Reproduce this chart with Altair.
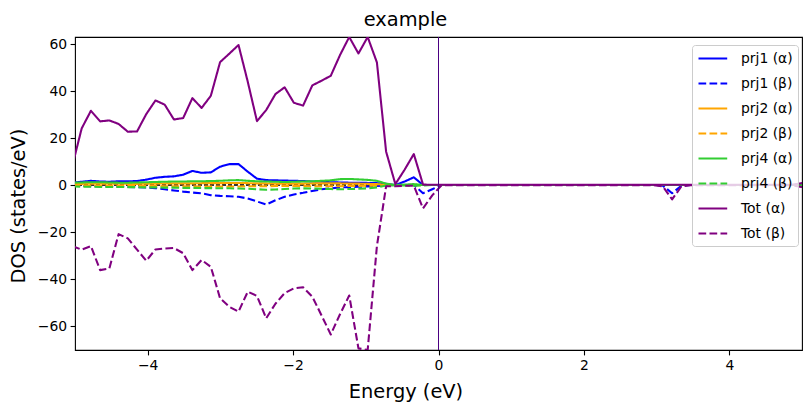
import altair as alt
import pandas as pd

# Energy grid of the DOS file (eV)
n_pts = 81
energy = [round(-5.035 + 0.1269 * i, 4) for i in range(n_pts)]

labels = ["prj1 (α)", "prj1 (β)", "prj2 (α)", "prj2 (β)",
          "prj4 (α)", "prj4 (β)", "Tot (α)", "Tot (β)"]
colors = ["#0000ff", "#0000ff", "#ffa500", "#ffa500",
          "#32cd32", "#32cd32", "#800080", "#800080"]
dashes = [[1, 0], [7.7, 3.3], [1, 0], [7.7, 3.3],
          [1, 0], [7.7, 3.3], [1, 0], [7.7, 3.3]]

# values below the Fermi level (first 41 points) and above (last 40 points)
prj1_a = [1.0, 1.4, 1.8, 1.5, 1.4, 1.6, 1.6, 1.7, 2.3, 3.1, 3.5, 3.7, 4.4, 6.0, 5.2, 5.4,
          7.8, 8.9, 8.9, 5.7, 2.7, 2.1, 2.0, 1.9, 1.8, 1.7, 1.5, 1.4, 1.2, 1.1, 1.0, 1.0,
          0.9, 0.8, 0.5, 0.0, 1.5, 3.3, 0.0, 0.0, 0.0,
          0.0, 0.0, 0.0, 0.0, 0.0, 0.0, 0.0, 0.0, 0.0, 0.0, 0.0, 0.0, 0.0, 0.0, 0.0, 0.0,
          0.0, 0.0, 0.0, 0.0, 0.0, 0.0, 0.0, 0.0, 0.0, 0.0, 0.0, 0.0, 0.0, 0.0, 0.0, 0.0,
          0.0, 0.0, 0.0, 0.0, 0.0, 0.0, 0.0, 0.0]
prj1_b = [-0.4, -0.4, -0.5, -0.5, -0.6, -0.7, -0.8, -0.9, -1.0, -1.3, -1.8, -2.3, -2.8, -3.2,
          -3.5, -4.3, -4.6, -4.8, -5.0, -5.7, -7.0, -8.3, -6.5, -5.0, -4.0, -3.3, -2.5, -1.8,
          -1.4, -1.0, -0.9, -0.7, -0.6, -0.4, -0.2, 0.0, 0.0, 0.0, -3.5, -1.8, 0.0,
          0.0, 0.0, 0.0, 0.0, 0.0, 0.0, 0.0, 0.0, 0.0, 0.0, 0.0, 0.0, 0.0, 0.0, 0.0, 0.0,
          0.0, 0.0, 0.0, 0.0, 0.0, 0.0, 0.0, -0.3, -3.5, -0.3, 0.0, 0.0, 0.0, 0.0, 0.0, 0.0,
          0.0, 0.0, 0.0, 0.0, 0.0, 0.0, 0.0, 0.0]
prj2_a = [0.5, 0.5, 0.6, 0.6, 0.6, 0.6, 0.5, 0.5, 0.6, 0.6, 0.7, 0.7, 0.7, 0.7, 0.8, 0.8,
          0.8, 0.9, 0.9, 0.8, 0.7, 0.7, 0.6, 0.6, 0.6, 0.6, 0.7, 0.7, 0.7, 0.7, 0.6, 0.6,
          0.5, 0.4, 0.1, 0.0, 0.0, 0.1, 0.0, 0.0, 0.0,
          0.0, 0.0, 0.0, 0.0, 0.0, 0.0, 0.0, 0.0, 0.0, 0.0, 0.0, 0.0, 0.0, 0.0, 0.0, 0.0,
          0.0, 0.0, 0.0, 0.0, 0.0, 0.0, 0.0, 0.0, 0.0, 0.0, 0.0, 0.0, 0.0, 0.0, 0.0, 0.0,
          0.0, 0.0, 0.0, 0.0, 0.0, 0.0, 0.0, 0.0]
prj2_b = [-0.3, -0.3, -0.4, -0.4, -0.4, -0.4, -0.3, -0.3, -0.4, -0.4, -0.5, -0.5, -0.5, -0.5,
          -0.6, -0.6, -0.6, -0.6, -0.6, -0.5, -0.5, -0.5, -0.4, -0.4, -0.4, -0.4, -0.5, -0.5,
          -0.5, -0.5, -0.4, -0.4, -0.3, -0.3, -0.1, 0.0, 0.0, -0.1, 0.0, 0.0, 0.0,
          0.0, 0.0, 0.0, 0.0, 0.0, 0.0, 0.0, 0.0, 0.0, 0.0, 0.0, 0.0, 0.0, 0.0, 0.0, 0.0,
          0.0, 0.0, 0.0, 0.0, 0.0, 0.0, 0.0, 0.0, 0.0, 0.0, 0.0, 0.0, 0.0, 0.0, 0.0, 0.0,
          0.0, 0.0, 0.0, 0.0, 0.0, 0.0, 0.0, 0.0]
prj4_a = [1.0, 1.1, 1.2, 1.2, 1.1, 1.0, 1.0, 1.1, 1.2, 1.3, 1.4, 1.5, 1.5, 1.6, 1.6, 1.7,
          1.8, 2.0, 2.1, 1.8, 1.6, 1.5, 1.4, 1.3, 1.4, 1.5, 1.6, 1.8, 2.0, 2.5, 2.6, 2.4,
          2.2, 1.8, 0.6, 0.0, 0.2, 0.4, 0.0, 0.0, 0.0,
          0.0, 0.0, 0.0, 0.0, 0.0, 0.0, 0.0, 0.0, 0.0, 0.0, 0.0, 0.0, 0.0, 0.0, 0.0, 0.0,
          0.0, 0.0, 0.0, 0.0, 0.0, 0.0, 0.0, 0.0, 0.0, 0.0, 0.0, 0.0, 0.0, 0.0, 0.0, 0.0,
          0.0, 0.0, 0.0, 0.0, 0.0, 0.0, 0.4, 0.4]
prj4_b = [-0.6, -0.7, -0.7, -0.8, -0.8, -0.8, -0.9, -0.9, -1.0, -1.0, -1.1, -1.1, -1.2, -1.2,
          -1.3, -1.3, -1.4, -1.4, -1.5, -1.6, -1.8, -2.0, -1.9, -1.7, -1.5, -1.4, -1.5, -1.6,
          -1.7, -1.8, -1.7, -1.6, -1.4, -1.0, -0.2, 0.0, -0.2, -0.3, -0.2, 0.0, 0.0,
          0.0, 0.0, 0.0, 0.0, 0.0, 0.0, 0.0, 0.0, 0.0, 0.0, 0.0, 0.0, 0.0, 0.0, 0.0, 0.0,
          0.0, 0.0, 0.0, 0.0, 0.0, 0.0, 0.0, 0.0, 0.0, 0.0, 0.0, 0.0, 0.0, 0.0, 0.0, 0.0,
          0.0, 0.0, 0.0, 0.0, 0.0, 0.0, 0.0, 0.0]
tot_a = [8.4, 24.1, 31.6, 27.1, 27.5, 26.0, 22.7, 22.8, 30.2, 36.0, 34.2, 27.9, 28.5, 37.0,
         32.8, 38.0, 52.3, 55.9, 59.6, 44.0, 27.2, 31.9, 38.7, 41.6, 35.0, 33.8, 42.4, 44.4,
         46.5, 55.3, 63.0, 56.0, 63.0, 52.2, 14.2, 0.4, 6.5, 13.2, 0.2, 0.1, 0.1,
         0.1, 0.1, 0.1, 0.1, 0.1, 0.1, 0.1, 0.1, 0.1, 0.1, 0.1, 0.1, 0.1, 0.1, 0.1, 0.1,
         0.1, 0.1, 0.1, 0.1, 0.1, 0.1, 0.1, 0.1, 0.1, 0.1, 0.1, 0.1, 0.1, 0.1, 0.1, 0.1,
         0.1, 0.1, 0.1, 0.1, 0.1, 0.1, 0.8, 0.8]
tot_b = [-26.0, -27.5, -26.0, -36.2, -35.5, -20.9, -22.7, -27.5, -32.2, -27.4, -27.0, -26.8,
         -29.0, -36.2, -31.9, -34.8, -48.2, -51.8, -53.9, -45.4, -47.2, -56.7, -50.5, -46.0,
         -44.0, -43.5, -47.5, -55.5, -63.6, -55.0, -47.0, -69.5, -70.2, -26.0, -0.5, -0.5,
         -0.3, -0.3, -9.9, -4.4, -0.1,
         -0.1, -0.1, -0.1, -0.1, -0.1, -0.1, -0.1, -0.1, -0.1, -0.1, -0.1, -0.1, -0.1, -0.1,
         -0.1, -0.1, -0.1, -0.1, -0.1, -0.1, -0.1, -0.1, -0.1, -0.6, -6.1, -0.6, -0.1, -0.1,
         -0.1, -0.1, -0.1, -0.1, -0.1, -0.1, -0.1, -0.1, -0.1, -0.1, -0.8, -0.8]

series_values = [prj1_a, prj1_b, prj2_a, prj2_b, prj4_a, prj4_b, tot_a, tot_b]

rows = []
for lab, vals in zip(labels, series_values):
    for e, v in zip(energy, vals):
        rows.append({"energy": e, "dos": v, "series": lab})
df = pd.DataFrame(rows)

FONT = "DejaVu Sans"

legend = alt.Legend(
    orient="none", legendX=617, legendY=8,
    symbolType="M-1,0H3.1", symbolSize=196, symbolStrokeWidth=2.08,
    labelFont=FONT, labelFontSize=13.9, labelColor="black", labelOffset=27,
    rowPadding=9, padding=5,
    fillColor="rgba(255,255,255,0.8)", strokeColor="#cccccc", cornerRadius=3,
)

lines = alt.Chart(df).mark_line(strokeWidth=2.08, strokeJoin="round", clip=True).encode(
    x=alt.X("energy:Q",
            scale=alt.Scale(domain=[-5, 5], nice=False, zero=False),
            axis=alt.Axis(values=[-4, -2, 0, 2, 4], format="d", title="Energy (eV)",
                          titleX=330.5, titleY=41, titleBaseline="middle", titleAlign="center")),
    y=alt.Y("dos:Q",
            scale=alt.Scale(domain=[-70.2, 63.0], nice=False, zero=False),
            axis=alt.Axis(values=[-60, -40, -20, 0, 20, 40, 60], format="d",
                          title="DOS (states/eV)",
                          titleX=-57, titleY=168.5, titleAngle=-90,
                          titleBaseline="middle", titleAlign="center")),
    color=alt.Color("series:N", title=None,
                    scale=alt.Scale(domain=labels, range=colors), legend=legend),
    strokeDash=alt.StrokeDash("series:N", title=None,
                              scale=alt.Scale(domain=labels, range=dashes), legend=legend),
)

hline = alt.Chart(df).mark_rule(color="#333333", strokeWidth=0.8, strokeDash=[4, 2]).encode(
    y=alt.datum(0)
)
vline = alt.Chart(df).mark_rule(color="#4b0082", strokeWidth=1.0).encode(
    x=alt.datum(0)
)

chart = alt.layer(hline, lines, vline).properties(
    width=727, height=313,
    autosize=alt.AutoSizeParams(type="none"),
    padding={"left": 67, "top": 29, "right": 1, "bottom": 53},
    title=alt.TitleParams("example", font=FONT, fontSize=19.4, fontWeight="normal",
                          color="black", anchor="middle", frame="group", dx=-33,
                          offset=14, dy=23, baseline="alphabetic"),
).configure_view(
    stroke="black", strokeWidth=1.1
).configure_axis(
    domain=False, grid=False, tickColor="black", tickWidth=1.1, tickSize=4.9,
    labelFont=FONT, labelFontSize=13.9, labelColor="black", labelPadding=3.5,
    titleFont=FONT, titleFontSize=19.4, titleFontWeight="normal", titleColor="black",
)

chart.save("out.html", embed_options={"renderer": "svg", "actions": False})
